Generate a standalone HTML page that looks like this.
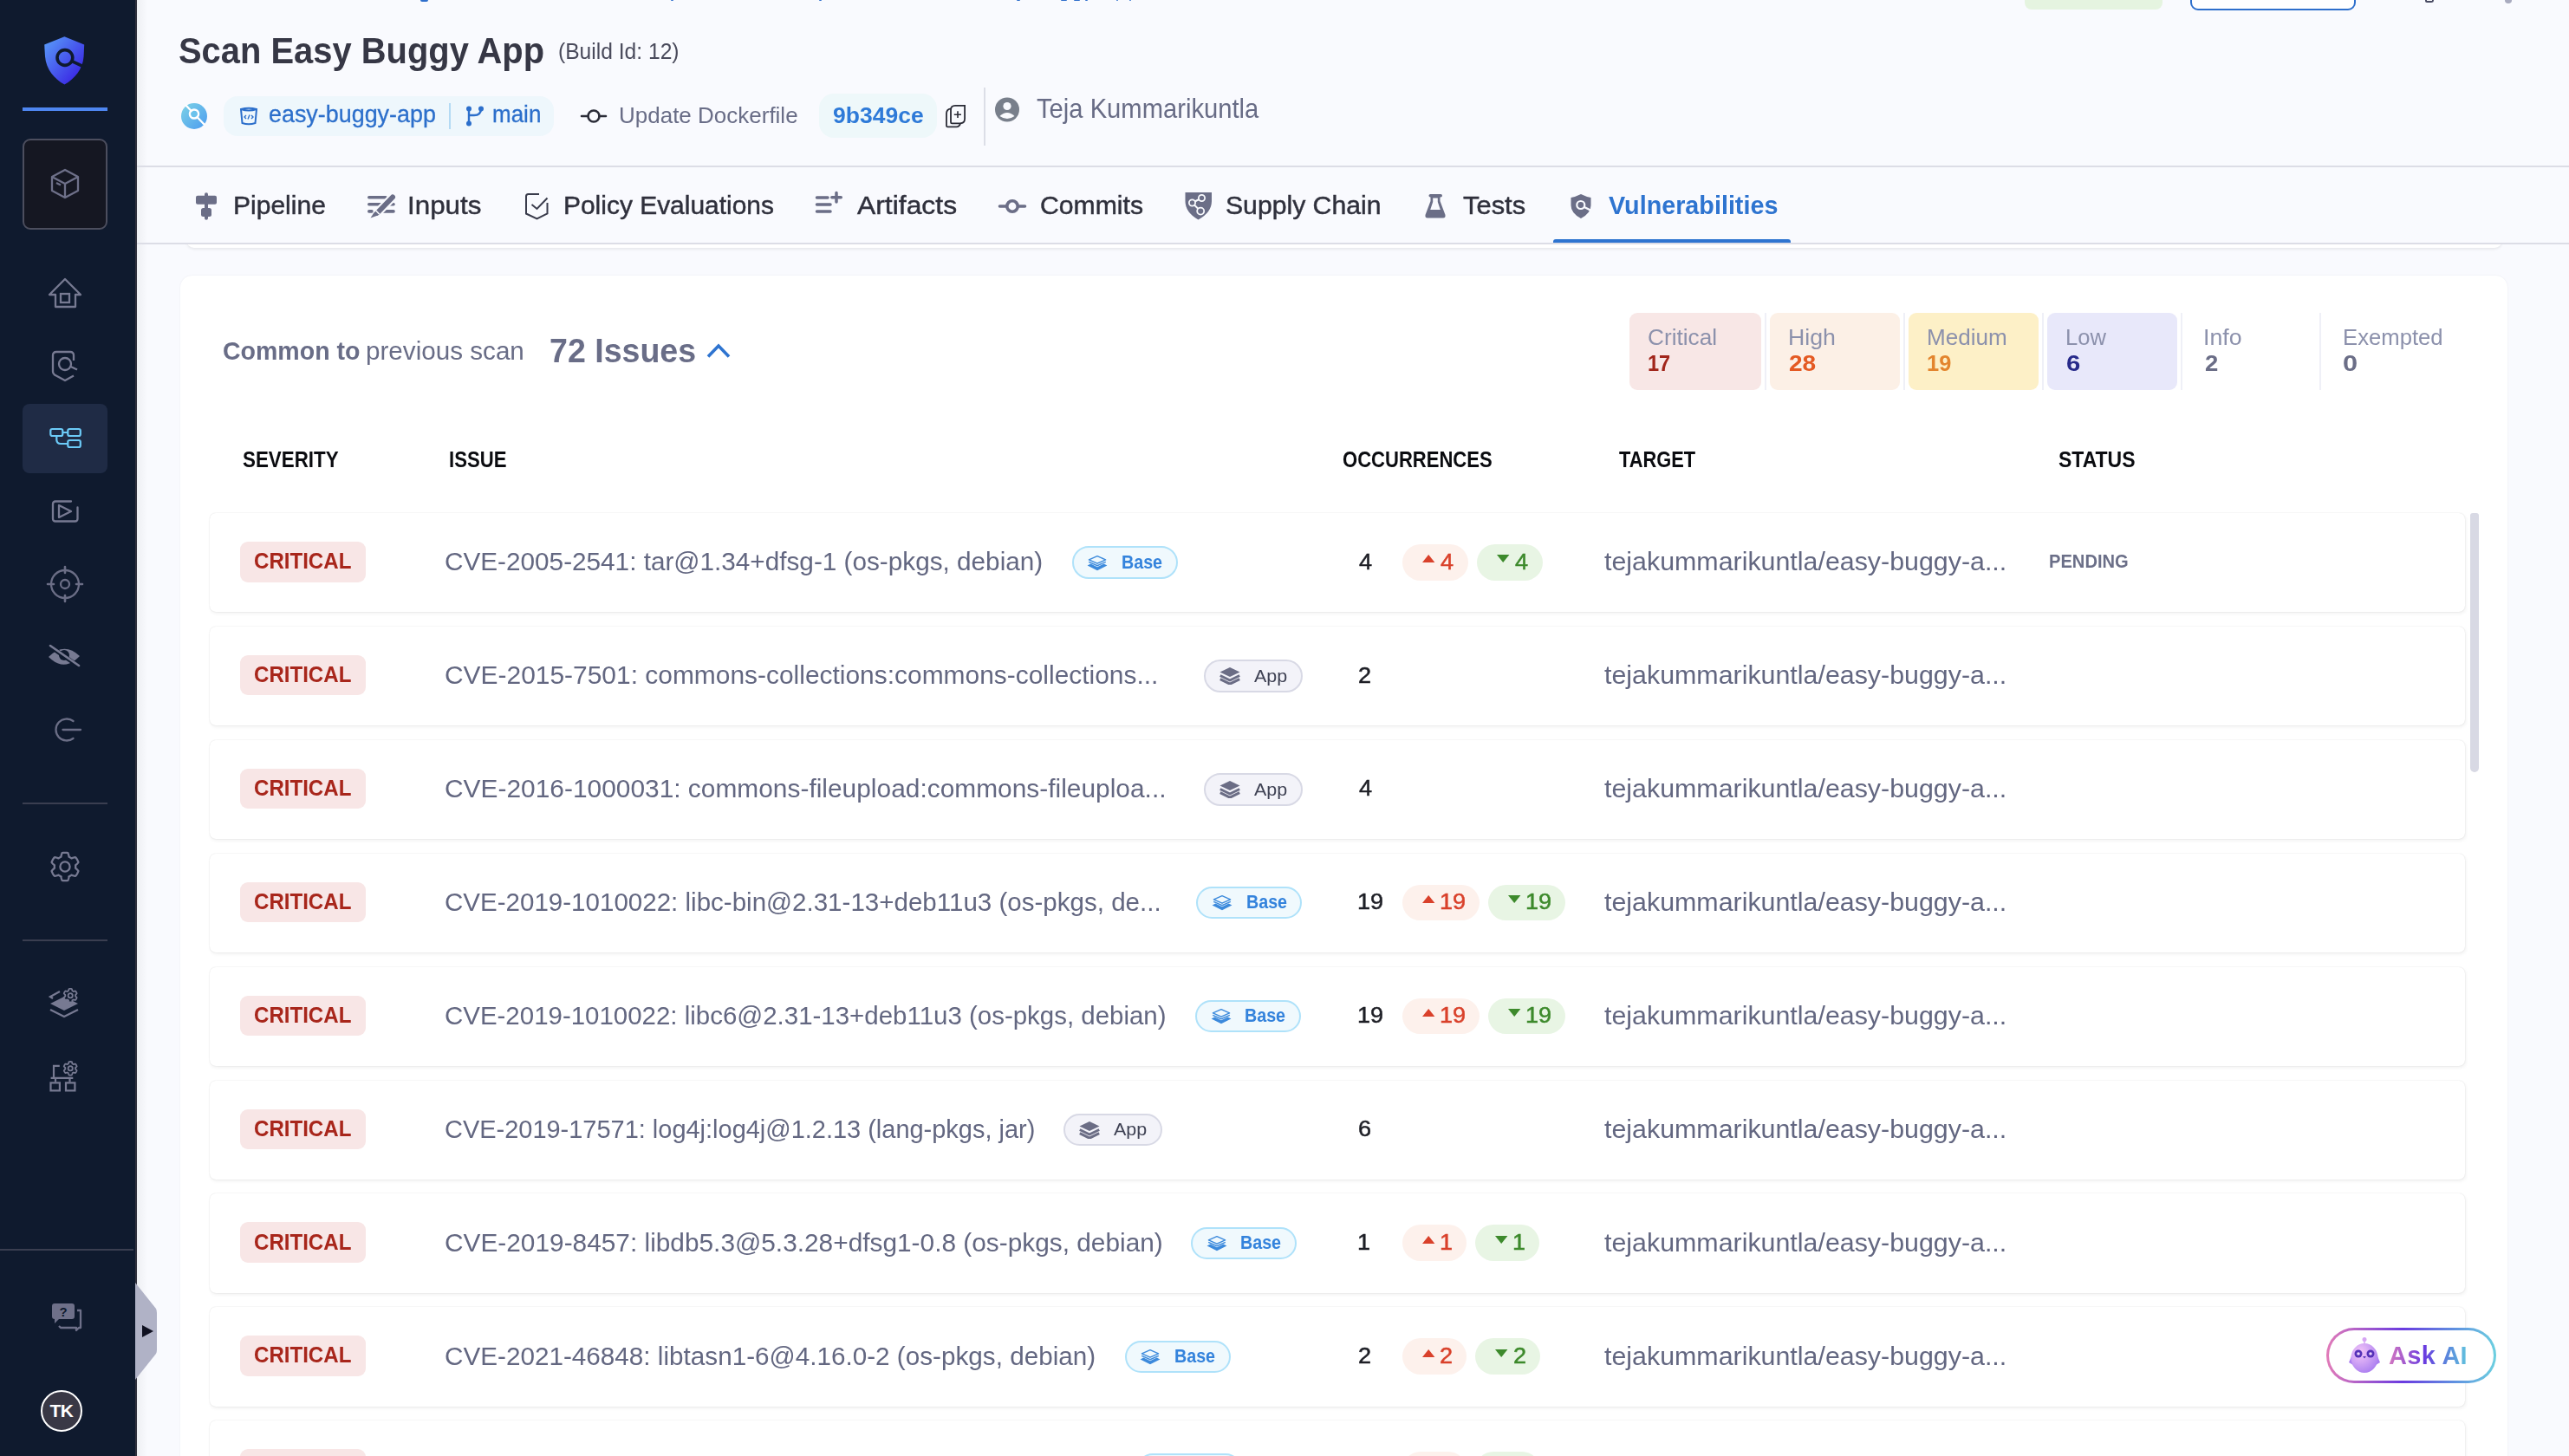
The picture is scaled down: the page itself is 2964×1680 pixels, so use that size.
<!DOCTYPE html>
<html><head><meta charset="utf-8"><title>Vulnerabilities</title>
<style>
*{margin:0;padding:0;box-sizing:border-box}
html,body{width:2964px;height:1680px;overflow:hidden;background:#F9FAFE;font-family:"Liberation Sans", sans-serif}
.t{position:absolute;line-height:1;white-space:nowrap;transform-origin:0 0}
.row{position:absolute;left:242.5px;width:2602px;height:114px;background:#fff;border-radius:10px;
box-shadow:0 0 0 1px rgba(230,231,238,0.55),0 3px 5px rgba(40,41,61,0.07)}
.crit{position:absolute;left:34.5px;top:33px;width:145px;height:46.5px;background:#F8E6E6;border-radius:9px;
color:#A8261B;font-weight:700;font-size:24px;line-height:46.5px;text-align:center;letter-spacing:0}
.issue{position:absolute;left:272px;top:0;height:114px;width:988px;display:flex;align-items:center}
.itxt{font-size:29px;color:#5E6480;white-space:nowrap;overflow:hidden;text-overflow:ellipsis;min-width:0;flex:0 1 auto;padding-top:3px;letter-spacing:0.1px}
.pill{flex:none;display:inline-flex;align-items:center;height:37.5px;border-radius:19px;border:2px solid;margin-left:34px;font-size:20px}
.pill.base{background:#F0F9FD;border-color:#B0E3FA;color:#2F7DDB;font-weight:700;padding:0 17px 0 16px;letter-spacing:0.3px}
.pill.base svg{margin-right:15px}
.pill.app{background:#F3F3F9;border-color:#D8D9E5;color:#3F4254;padding:0 16px 0 16px;font-size:21px}
.pill.app svg{margin-right:14px}
.occ{position:absolute;left:1325px;top:0;line-height:114px;font-size:26px;color:#1E1F26;padding-top:3px}
.dwrap{position:absolute;left:1375.5px;top:36px;display:flex;gap:10px}
.dpill{height:42px;border-radius:21px;display:flex;align-items:center;font-size:26px;padding:3px 17px 0 23px}
.dpill svg{margin-right:7px;margin-top:-5px}
.dpill.up{background:#FDF1EC;color:#D9412B}
.dpill.down{background:#E8F5E4;color:#3D8A2C}
.tgt{position:absolute;left:1608px;top:0;line-height:114px;font-size:29px;color:#5E6480;padding-top:4px;letter-spacing:0.25px}
.status{position:absolute;left:2123px;top:0;line-height:114px;font-size:20px;font-weight:700;color:#6B6F88;padding-top:0px}
</style></head>
<body>
<div style="position:absolute;left:0px;top:0px;width:156px;height:1680px;background:#0F1A2E"></div>
<div style="position:absolute;left:156px;top:0px;width:2px;height:1680px;background:#30313D"></div>
<div style="position:absolute;left:158px;top:0px;width:12px;height:1680px;background:linear-gradient(90deg,#EEEFF3,#F9FAFE)"></div>
<svg style="position:absolute;left:48px;top:40px" width="52" height="60" viewBox="0 0 52 60" fill="none">
<defs><linearGradient id="lg" x1="0" y1="0" x2="1" y2="1">
<stop offset="0" stop-color="#5AA0FA"/><stop offset="1" stop-color="#3412E0"/></linearGradient></defs>
<path d="M26.4 2.2 L49.2 11.6 L48.6 25 C47.5 40 38 51 26.4 57.6 C14.5 51 5.2 40 4 25 L3.2 11.6 Z" fill="url(#lg)"/>
<circle cx="26.9" cy="26.5" r="8.9" stroke="#0F1A2E" stroke-width="3.6"/>
<path d="M34.5 30.3 L49.5 37.3" stroke="#0F1A2E" stroke-width="3.6"/>
</svg>
<div style="position:absolute;left:26px;top:124px;width:98px;height:4px;background:#4E86F0"></div>
<div style="position:absolute;left:26px;top:160px;width:98px;height:105px;background:#151722;border:2px solid #4C4E5E;border-radius:9px;box-sizing:border-box"></div>
<svg style="position:absolute;left:58px;top:194px" width="34" height="36" viewBox="0 0 34 36" fill="none">
<path d="M17 2 L32 10 L32 26 L17 34 L2 26 L2 10 Z M2 10 L17 18 L32 10 M17 18 L17 34 M7 17 L12 19.5" stroke="#6E7089" stroke-width="2.3" stroke-linejoin="round"/>
</svg>
<svg style="position:absolute;left:55px;top:319px" width="40" height="38" viewBox="0 0 40 38" fill="none">
<path d="M2 21 L20 3 L38 21 L32 21 L32 35 L9 35 L9 21 Z" stroke="#777A92" stroke-width="2.3" stroke-linejoin="round"/>
<rect x="15" y="20" width="10" height="10" stroke="#777A92" stroke-width="2.3"/>
</svg>
<svg style="position:absolute;left:58px;top:403px" width="36" height="38" viewBox="0 0 36 38" fill="none">
<path d="M27 13 L27 7 Q27 3 23 3 L7 3 Q3 3 3 7 L3 26 Q3 28 5 29.5 L17 36 L27 30.5" stroke="#777A92" stroke-width="2.3" stroke-linejoin="round"/>
<circle cx="17" cy="17" r="7" stroke="#777A92" stroke-width="2.3"/>
<path d="M23.5 20 L31 23.5" stroke="#777A92" stroke-width="2.3"/>
</svg>
<div style="position:absolute;left:26px;top:466px;width:98px;height:80px;background:#1F2B45;border-radius:8px"></div>
<svg style="position:absolute;left:55px;top:492px" width="42" height="26" viewBox="0 0 42 26" fill="none">
<rect x="3.3" y="3" width="14" height="8" rx="2" stroke="#6CCBF8" stroke-width="2.2"/>
<rect x="23.3" y="3" width="14.5" height="8" rx="2" stroke="#6CCBF8" stroke-width="2.2"/>
<rect x="23.3" y="16" width="14.5" height="8" rx="2" stroke="#6CCBF8" stroke-width="2.2"/>
<path d="M17.3 7 L23.3 7 M10.3 11 L10.3 15 Q10.3 20 15 20 L23.3 20" stroke="#6CCBF8" stroke-width="2.2"/>
</svg>
<svg style="position:absolute;left:58px;top:575px" width="34" height="30" viewBox="0 0 34 30" fill="none">
<path d="M24 3.5 L6 3.5 Q3 3.5 3 6.5 L3 23.5 Q3 26.5 6 26.5 L28.5 26.5 Q31.5 26.5 31.5 23.5 L31.5 10.5" stroke="#777A92" stroke-width="2.3" stroke-linecap="round"/>
<path d="M10 8 L10 22 L24 15 Z" stroke="#777A92" stroke-width="2.3" stroke-linejoin="round"/>
</svg>
<svg style="position:absolute;left:53px;top:652px" width="44" height="44" viewBox="0 0 44 44" fill="none">
<circle cx="22" cy="22" r="16" stroke="#6B6E86" stroke-width="2.3"/>
<circle cx="22" cy="22" r="5" stroke="#6B6E86" stroke-width="2.3"/>
<path d="M22 2 L22 9 M22 35 L22 42 M2 22 L9 22 M35 22 L42 22" stroke="#6B6E86" stroke-width="2.6" stroke-linecap="round"/>
</svg>
<svg style="position:absolute;left:54px;top:742px" width="42" height="32" viewBox="0 0 42 32" fill="none">
<path d="M2 16 Q20 -2 38 15 Q20 34 2 16 Z" fill="#777A92"/>
<circle cx="20" cy="14" r="6" fill="#0F1A2E"/>
<path d="M4 4 L37 27" stroke="#0F1A2E" stroke-width="5"/>
<path d="M4 3 L37 26" stroke="#777A92" stroke-width="2.6" stroke-linecap="round"/>
</svg>
<svg style="position:absolute;left:60px;top:827px" width="36" height="30" viewBox="0 0 36 30" fill="none">
<path d="M24.5 5 A12.5 12.5 0 1 0 24.5 25" stroke="#6B6E86" stroke-width="2.3" stroke-linecap="round"/>
<path d="M12.5 15 L33 15" stroke="#6B6E86" stroke-width="2.3" stroke-linecap="round"/>
</svg>
<div style="position:absolute;left:26px;top:926px;width:98px;height:2px;background:#3A3E50"></div>
<svg style="position:absolute;left:55px;top:980px" width="40" height="40" viewBox="0 0 40 40" fill="none">
<path d="M32.20 20.00 L32.20 20.21 L32.19 20.43 L32.18 20.64 L32.17 20.85 L32.15 21.06 L32.13 21.28 L32.11 21.49 L32.08 21.70 L32.44 21.97 L32.80 22.26 L33.15 22.56 L33.50 22.87 L33.84 23.19 L34.17 23.53 L34.49 23.88 L34.80 24.24 L35.11 24.62 L35.41 25.01 L35.32 25.27 L35.22 25.54 L35.12 25.81 L35.02 26.07 L34.91 26.33 L34.80 26.59 L34.68 26.85 L34.56 27.10 L34.43 27.35 L34.30 27.61 L34.17 27.85 L34.03 28.10 L33.89 28.34 L33.74 28.58 L33.59 28.82 L33.43 29.06 L33.27 29.29 L33.11 29.52 L32.94 29.75 L32.77 29.97 L32.59 30.19 L32.41 30.41 L32.23 30.63 L32.04 30.84 L31.56 30.78 L31.08 30.70 L30.61 30.61 L30.14 30.50 L29.68 30.39 L29.23 30.26 L28.79 30.11 L28.36 29.96 L27.93 29.79 L27.51 29.61 L27.34 29.74 L27.17 29.87 L27.00 29.99 L26.82 30.11 L26.64 30.23 L26.47 30.35 L26.28 30.46 L26.10 30.57 L25.91 30.67 L25.73 30.77 L25.54 30.87 L25.35 30.97 L25.16 31.06 L24.96 31.15 L24.77 31.23 L24.57 31.31 L24.52 31.76 L24.45 32.22 L24.36 32.67 L24.26 33.12 L24.15 33.58 L24.02 34.03 L23.88 34.49 L23.73 34.94 L23.55 35.40 L23.37 35.85 L23.09 35.90 L22.81 35.95 L22.53 36.00 L22.25 36.04 L21.97 36.08 L21.69 36.11 L21.41 36.14 L21.13 36.16 L20.85 36.18 L20.57 36.19 L20.28 36.20 L20.00 36.20 L19.72 36.20 L19.43 36.19 L19.15 36.18 L18.87 36.16 L18.59 36.14 L18.31 36.11 L18.03 36.08 L17.75 36.04 L17.47 36.00 L17.19 35.95 L16.91 35.90 L16.63 35.85 L16.45 35.40 L16.27 34.94 L16.12 34.49 L15.98 34.03 L15.85 33.58 L15.74 33.12 L15.64 32.67 L15.55 32.22 L15.48 31.76 L15.43 31.31 L15.23 31.23 L15.04 31.15 L14.84 31.06 L14.65 30.97 L14.46 30.87 L14.27 30.77 L14.09 30.67 L13.90 30.57 L13.72 30.46 L13.53 30.35 L13.36 30.23 L13.18 30.11 L13.00 29.99 L12.83 29.87 L12.66 29.74 L12.49 29.61 L12.07 29.79 L11.64 29.96 L11.21 30.11 L10.77 30.26 L10.32 30.39 L9.86 30.50 L9.39 30.61 L8.92 30.70 L8.44 30.78 L7.96 30.84 L7.77 30.63 L7.59 30.41 L7.41 30.19 L7.23 29.97 L7.06 29.75 L6.89 29.52 L6.73 29.29 L6.57 29.06 L6.41 28.82 L6.26 28.58 L6.11 28.34 L5.97 28.10 L5.83 27.85 L5.70 27.61 L5.57 27.35 L5.44 27.10 L5.32 26.85 L5.20 26.59 L5.09 26.33 L4.98 26.07 L4.88 25.81 L4.78 25.54 L4.68 25.27 L4.59 25.01 L4.89 24.62 L5.20 24.24 L5.51 23.88 L5.83 23.53 L6.16 23.19 L6.50 22.87 L6.85 22.56 L7.20 22.26 L7.56 21.97 L7.92 21.70 L7.89 21.49 L7.87 21.28 L7.85 21.06 L7.83 20.85 L7.82 20.64 L7.81 20.43 L7.80 20.21 L7.80 20.00 L7.80 19.79 L7.81 19.57 L7.82 19.36 L7.83 19.15 L7.85 18.94 L7.87 18.72 L7.89 18.51 L7.92 18.30 L7.56 18.03 L7.20 17.74 L6.85 17.44 L6.50 17.13 L6.16 16.81 L5.83 16.47 L5.51 16.12 L5.20 15.76 L4.89 15.38 L4.59 14.99 L4.68 14.73 L4.78 14.46 L4.88 14.19 L4.98 13.93 L5.09 13.67 L5.20 13.41 L5.32 13.15 L5.44 12.90 L5.57 12.65 L5.70 12.39 L5.83 12.15 L5.97 11.90 L6.11 11.66 L6.26 11.42 L6.41 11.18 L6.57 10.94 L6.73 10.71 L6.89 10.48 L7.06 10.25 L7.23 10.03 L7.41 9.81 L7.59 9.59 L7.77 9.37 L7.96 9.16 L8.44 9.22 L8.92 9.30 L9.39 9.39 L9.86 9.50 L10.32 9.61 L10.77 9.74 L11.21 9.89 L11.64 10.04 L12.07 10.21 L12.49 10.39 L12.66 10.26 L12.83 10.13 L13.00 10.01 L13.18 9.89 L13.36 9.77 L13.53 9.65 L13.72 9.54 L13.90 9.43 L14.09 9.33 L14.27 9.23 L14.46 9.13 L14.65 9.03 L14.84 8.94 L15.04 8.85 L15.23 8.77 L15.43 8.69 L15.48 8.24 L15.55 7.78 L15.64 7.33 L15.74 6.88 L15.85 6.42 L15.98 5.97 L16.12 5.51 L16.27 5.06 L16.45 4.60 L16.63 4.15 L16.91 4.10 L17.19 4.05 L17.47 4.00 L17.75 3.96 L18.03 3.92 L18.31 3.89 L18.59 3.86 L18.87 3.84 L19.15 3.82 L19.43 3.81 L19.72 3.80 L20.00 3.80 L20.28 3.80 L20.57 3.81 L20.85 3.82 L21.13 3.84 L21.41 3.86 L21.69 3.89 L21.97 3.92 L22.25 3.96 L22.53 4.00 L22.81 4.05 L23.09 4.10 L23.37 4.15 L23.55 4.60 L23.73 5.06 L23.88 5.51 L24.02 5.97 L24.15 6.42 L24.26 6.88 L24.36 7.33 L24.45 7.78 L24.52 8.24 L24.57 8.69 L24.77 8.77 L24.96 8.85 L25.16 8.94 L25.35 9.03 L25.54 9.13 L25.73 9.23 L25.91 9.33 L26.10 9.43 L26.28 9.54 L26.47 9.65 L26.64 9.77 L26.82 9.89 L27.00 10.01 L27.17 10.13 L27.34 10.26 L27.51 10.39 L27.93 10.21 L28.36 10.04 L28.79 9.89 L29.23 9.74 L29.68 9.61 L30.14 9.50 L30.61 9.39 L31.08 9.30 L31.56 9.22 L32.04 9.16 L32.23 9.37 L32.41 9.59 L32.59 9.81 L32.77 10.03 L32.94 10.25 L33.11 10.48 L33.27 10.71 L33.43 10.94 L33.59 11.18 L33.74 11.42 L33.89 11.66 L34.03 11.90 L34.17 12.15 L34.30 12.39 L34.43 12.65 L34.56 12.90 L34.68 13.15 L34.80 13.41 L34.91 13.67 L35.02 13.93 L35.12 14.19 L35.22 14.46 L35.32 14.73 L35.41 14.99 L35.11 15.38 L34.80 15.76 L34.49 16.12 L34.17 16.47 L33.84 16.81 L33.50 17.13 L33.15 17.44 L32.80 17.74 L32.44 18.03 L32.08 18.30 L32.11 18.51 L32.13 18.72 L32.15 18.94 L32.17 19.15 L32.18 19.36 L32.19 19.57 L32.20 19.79 Z" stroke="#777A92" stroke-width="2.3" stroke-linejoin="round"/>
<circle cx="20" cy="20" r="5.6" stroke="#777A92" stroke-width="2.3"/>
</svg>
<div style="position:absolute;left:26px;top:1084px;width:98px;height:2px;background:#3A3E50"></div>
<svg style="position:absolute;left:55px;top:1138px" width="40" height="40" viewBox="0 0 40 40" fill="none">
<path d="M18 4 L4 11 L19 19 L35 11" stroke="#777A92" stroke-width="0"/>
<path d="M3 20 L19 12 L35 20 L19 28 Z" fill="#777A92"/>
<path d="M3 27 L19 35 L35 27" stroke="#777A92" stroke-width="2.3" stroke-linejoin="round"/>
<path d="M3 20 L3 20" stroke="#777A92"/>
<path d="M14 6 L3 12 L6 14" stroke="#777A92" stroke-width="2.3"/>
<path d="M32.10 10.70 L32.10 10.80 L32.10 10.91 L32.09 11.01 L32.09 11.11 L32.08 11.21 L32.07 11.32 L32.06 11.42 L32.04 11.52 L32.22 11.65 L32.38 11.79 L32.55 11.93 L32.71 12.08 L32.87 12.24 L33.03 12.40 L33.18 12.57 L33.33 12.75 L33.48 12.92 L33.62 13.11 L33.58 13.24 L33.53 13.37 L33.48 13.50 L33.43 13.62 L33.38 13.75 L33.33 13.87 L33.27 14.00 L33.21 14.12 L33.15 14.24 L33.09 14.36 L33.02 14.48 L32.95 14.60 L32.89 14.72 L32.81 14.83 L32.74 14.95 L32.67 15.06 L32.59 15.17 L32.51 15.28 L32.43 15.39 L32.35 15.50 L32.26 15.61 L32.18 15.71 L32.09 15.82 L32.00 15.92 L31.77 15.89 L31.54 15.85 L31.31 15.81 L31.09 15.76 L30.87 15.71 L30.66 15.65 L30.44 15.58 L30.24 15.51 L30.03 15.43 L29.83 15.35 L29.75 15.41 L29.67 15.47 L29.58 15.53 L29.50 15.59 L29.41 15.65 L29.33 15.70 L29.24 15.76 L29.15 15.81 L29.06 15.86 L28.97 15.91 L28.88 15.96 L28.79 16.00 L28.69 16.05 L28.60 16.09 L28.51 16.13 L28.41 16.17 L28.38 16.39 L28.35 16.60 L28.31 16.82 L28.26 17.03 L28.20 17.25 L28.14 17.47 L28.07 17.68 L28.00 17.90 L27.91 18.11 L27.82 18.33 L27.69 18.36 L27.55 18.38 L27.42 18.40 L27.29 18.42 L27.15 18.44 L27.02 18.46 L26.88 18.47 L26.74 18.48 L26.61 18.49 L26.47 18.50 L26.34 18.50 L26.20 18.50 L26.06 18.50 L25.93 18.50 L25.79 18.49 L25.66 18.48 L25.52 18.47 L25.38 18.46 L25.25 18.44 L25.11 18.42 L24.98 18.40 L24.85 18.38 L24.71 18.36 L24.58 18.33 L24.49 18.11 L24.40 17.90 L24.33 17.68 L24.26 17.47 L24.20 17.25 L24.14 17.03 L24.09 16.82 L24.05 16.60 L24.02 16.39 L23.99 16.17 L23.89 16.13 L23.80 16.09 L23.71 16.05 L23.61 16.00 L23.52 15.96 L23.43 15.91 L23.34 15.86 L23.25 15.81 L23.16 15.76 L23.07 15.70 L22.99 15.65 L22.90 15.59 L22.82 15.53 L22.73 15.47 L22.65 15.41 L22.57 15.35 L22.37 15.43 L22.16 15.51 L21.96 15.58 L21.74 15.65 L21.53 15.71 L21.31 15.76 L21.09 15.81 L20.86 15.85 L20.63 15.89 L20.40 15.92 L20.31 15.82 L20.22 15.71 L20.14 15.61 L20.05 15.50 L19.97 15.39 L19.89 15.28 L19.81 15.17 L19.73 15.06 L19.66 14.95 L19.59 14.83 L19.51 14.72 L19.45 14.60 L19.38 14.48 L19.31 14.36 L19.25 14.24 L19.19 14.12 L19.13 14.00 L19.07 13.87 L19.02 13.75 L18.97 13.62 L18.92 13.50 L18.87 13.37 L18.82 13.24 L18.78 13.11 L18.92 12.92 L19.07 12.75 L19.22 12.57 L19.37 12.40 L19.53 12.24 L19.69 12.08 L19.85 11.93 L20.02 11.79 L20.18 11.65 L20.36 11.52 L20.34 11.42 L20.33 11.32 L20.32 11.21 L20.31 11.11 L20.31 11.01 L20.30 10.91 L20.30 10.80 L20.30 10.70 L20.30 10.60 L20.30 10.49 L20.31 10.39 L20.31 10.29 L20.32 10.19 L20.33 10.08 L20.34 9.98 L20.36 9.88 L20.18 9.75 L20.02 9.61 L19.85 9.47 L19.69 9.32 L19.53 9.16 L19.37 9.00 L19.22 8.83 L19.07 8.65 L18.92 8.48 L18.78 8.29 L18.82 8.16 L18.87 8.03 L18.92 7.90 L18.97 7.78 L19.02 7.65 L19.07 7.53 L19.13 7.40 L19.19 7.28 L19.25 7.16 L19.31 7.04 L19.38 6.92 L19.45 6.80 L19.51 6.68 L19.59 6.57 L19.66 6.45 L19.73 6.34 L19.81 6.23 L19.89 6.12 L19.97 6.01 L20.05 5.90 L20.14 5.79 L20.22 5.69 L20.31 5.58 L20.40 5.48 L20.63 5.51 L20.86 5.55 L21.09 5.59 L21.31 5.64 L21.53 5.69 L21.74 5.75 L21.96 5.82 L22.16 5.89 L22.37 5.97 L22.57 6.05 L22.65 5.99 L22.73 5.93 L22.82 5.87 L22.90 5.81 L22.99 5.75 L23.07 5.70 L23.16 5.64 L23.25 5.59 L23.34 5.54 L23.43 5.49 L23.52 5.44 L23.61 5.40 L23.71 5.35 L23.80 5.31 L23.89 5.27 L23.99 5.23 L24.02 5.01 L24.05 4.80 L24.09 4.58 L24.14 4.37 L24.20 4.15 L24.26 3.93 L24.33 3.72 L24.40 3.50 L24.49 3.29 L24.58 3.07 L24.71 3.04 L24.85 3.02 L24.98 3.00 L25.11 2.98 L25.25 2.96 L25.38 2.94 L25.52 2.93 L25.66 2.92 L25.79 2.91 L25.93 2.90 L26.06 2.90 L26.20 2.90 L26.34 2.90 L26.47 2.90 L26.61 2.91 L26.74 2.92 L26.88 2.93 L27.02 2.94 L27.15 2.96 L27.29 2.98 L27.42 3.00 L27.55 3.02 L27.69 3.04 L27.82 3.07 L27.91 3.29 L28.00 3.50 L28.07 3.72 L28.14 3.93 L28.20 4.15 L28.26 4.37 L28.31 4.58 L28.35 4.80 L28.38 5.01 L28.41 5.23 L28.51 5.27 L28.60 5.31 L28.69 5.35 L28.79 5.40 L28.88 5.44 L28.97 5.49 L29.06 5.54 L29.15 5.59 L29.24 5.64 L29.33 5.70 L29.41 5.75 L29.50 5.81 L29.58 5.87 L29.67 5.93 L29.75 5.99 L29.83 6.05 L30.03 5.97 L30.24 5.89 L30.44 5.82 L30.66 5.75 L30.87 5.69 L31.09 5.64 L31.31 5.59 L31.54 5.55 L31.77 5.51 L32.00 5.48 L32.09 5.58 L32.18 5.69 L32.26 5.79 L32.35 5.90 L32.43 6.01 L32.51 6.12 L32.59 6.23 L32.67 6.34 L32.74 6.45 L32.81 6.57 L32.89 6.68 L32.95 6.80 L33.02 6.92 L33.09 7.04 L33.15 7.16 L33.21 7.28 L33.27 7.40 L33.33 7.53 L33.38 7.65 L33.43 7.78 L33.48 7.90 L33.53 8.03 L33.58 8.16 L33.62 8.29 L33.48 8.48 L33.33 8.65 L33.18 8.83 L33.03 9.00 L32.87 9.16 L32.71 9.32 L32.55 9.47 L32.38 9.61 L32.22 9.75 L32.04 9.88 L32.06 9.98 L32.07 10.08 L32.08 10.19 L32.09 10.29 L32.09 10.39 L32.10 10.49 L32.10 10.60 Z" fill="#0F1A2E" stroke="#777A92" stroke-width="1.8" stroke-linejoin="round"/>
<circle cx="26.2" cy="10.7" r="2.6" stroke="#777A92" stroke-width="1.8"/>
</svg>
<svg style="position:absolute;left:55px;top:1222px" width="40" height="40" viewBox="0 0 40 40" fill="none">
<path d="M13.8 7.8 L7 7.8 L7 21.8 M3.6 21.8 L29.3 21.8 M9 21.8 L9 26.4 M25.5 21.8 L25.5 26.4" stroke="#777A92" stroke-width="2.2"/>
<rect x="3.5" y="27.4" width="10.4" height="9" stroke="#777A92" stroke-width="2.2"/>
<rect x="21" y="27.4" width="10.4" height="9" stroke="#777A92" stroke-width="2.2"/>
<path d="M32.10 10.80 L32.10 10.90 L32.10 11.01 L32.09 11.11 L32.09 11.21 L32.08 11.31 L32.07 11.42 L32.06 11.52 L32.04 11.62 L32.22 11.75 L32.38 11.89 L32.55 12.03 L32.71 12.18 L32.87 12.34 L33.03 12.50 L33.18 12.67 L33.33 12.85 L33.48 13.02 L33.62 13.21 L33.58 13.34 L33.53 13.47 L33.48 13.60 L33.43 13.72 L33.38 13.85 L33.33 13.97 L33.27 14.10 L33.21 14.22 L33.15 14.34 L33.09 14.46 L33.02 14.58 L32.95 14.70 L32.89 14.82 L32.81 14.93 L32.74 15.05 L32.67 15.16 L32.59 15.27 L32.51 15.38 L32.43 15.49 L32.35 15.60 L32.26 15.71 L32.18 15.81 L32.09 15.92 L32.00 16.02 L31.77 15.99 L31.54 15.95 L31.31 15.91 L31.09 15.86 L30.87 15.81 L30.66 15.75 L30.44 15.68 L30.24 15.61 L30.03 15.53 L29.83 15.45 L29.75 15.51 L29.67 15.57 L29.58 15.63 L29.50 15.69 L29.41 15.75 L29.33 15.80 L29.24 15.86 L29.15 15.91 L29.06 15.96 L28.97 16.01 L28.88 16.06 L28.79 16.10 L28.69 16.15 L28.60 16.19 L28.51 16.23 L28.41 16.27 L28.38 16.49 L28.35 16.70 L28.31 16.92 L28.26 17.13 L28.20 17.35 L28.14 17.57 L28.07 17.78 L28.00 18.00 L27.91 18.21 L27.82 18.43 L27.69 18.46 L27.55 18.48 L27.42 18.50 L27.29 18.52 L27.15 18.54 L27.02 18.56 L26.88 18.57 L26.74 18.58 L26.61 18.59 L26.47 18.60 L26.34 18.60 L26.20 18.60 L26.06 18.60 L25.93 18.60 L25.79 18.59 L25.66 18.58 L25.52 18.57 L25.38 18.56 L25.25 18.54 L25.11 18.52 L24.98 18.50 L24.85 18.48 L24.71 18.46 L24.58 18.43 L24.49 18.21 L24.40 18.00 L24.33 17.78 L24.26 17.57 L24.20 17.35 L24.14 17.13 L24.09 16.92 L24.05 16.70 L24.02 16.49 L23.99 16.27 L23.89 16.23 L23.80 16.19 L23.71 16.15 L23.61 16.10 L23.52 16.06 L23.43 16.01 L23.34 15.96 L23.25 15.91 L23.16 15.86 L23.07 15.80 L22.99 15.75 L22.90 15.69 L22.82 15.63 L22.73 15.57 L22.65 15.51 L22.57 15.45 L22.37 15.53 L22.16 15.61 L21.96 15.68 L21.74 15.75 L21.53 15.81 L21.31 15.86 L21.09 15.91 L20.86 15.95 L20.63 15.99 L20.40 16.02 L20.31 15.92 L20.22 15.81 L20.14 15.71 L20.05 15.60 L19.97 15.49 L19.89 15.38 L19.81 15.27 L19.73 15.16 L19.66 15.05 L19.59 14.93 L19.51 14.82 L19.45 14.70 L19.38 14.58 L19.31 14.46 L19.25 14.34 L19.19 14.22 L19.13 14.10 L19.07 13.97 L19.02 13.85 L18.97 13.72 L18.92 13.60 L18.87 13.47 L18.82 13.34 L18.78 13.21 L18.92 13.02 L19.07 12.85 L19.22 12.67 L19.37 12.50 L19.53 12.34 L19.69 12.18 L19.85 12.03 L20.02 11.89 L20.18 11.75 L20.36 11.62 L20.34 11.52 L20.33 11.42 L20.32 11.31 L20.31 11.21 L20.31 11.11 L20.30 11.01 L20.30 10.90 L20.30 10.80 L20.30 10.70 L20.30 10.59 L20.31 10.49 L20.31 10.39 L20.32 10.29 L20.33 10.18 L20.34 10.08 L20.36 9.98 L20.18 9.85 L20.02 9.71 L19.85 9.57 L19.69 9.42 L19.53 9.26 L19.37 9.10 L19.22 8.93 L19.07 8.75 L18.92 8.58 L18.78 8.39 L18.82 8.26 L18.87 8.13 L18.92 8.00 L18.97 7.88 L19.02 7.75 L19.07 7.63 L19.13 7.50 L19.19 7.38 L19.25 7.26 L19.31 7.14 L19.38 7.02 L19.45 6.90 L19.51 6.78 L19.59 6.67 L19.66 6.55 L19.73 6.44 L19.81 6.33 L19.89 6.22 L19.97 6.11 L20.05 6.00 L20.14 5.89 L20.22 5.79 L20.31 5.68 L20.40 5.58 L20.63 5.61 L20.86 5.65 L21.09 5.69 L21.31 5.74 L21.53 5.79 L21.74 5.85 L21.96 5.92 L22.16 5.99 L22.37 6.07 L22.57 6.15 L22.65 6.09 L22.73 6.03 L22.82 5.97 L22.90 5.91 L22.99 5.85 L23.07 5.80 L23.16 5.74 L23.25 5.69 L23.34 5.64 L23.43 5.59 L23.52 5.54 L23.61 5.50 L23.71 5.45 L23.80 5.41 L23.89 5.37 L23.99 5.33 L24.02 5.11 L24.05 4.90 L24.09 4.68 L24.14 4.47 L24.20 4.25 L24.26 4.03 L24.33 3.82 L24.40 3.60 L24.49 3.39 L24.58 3.17 L24.71 3.14 L24.85 3.12 L24.98 3.10 L25.11 3.08 L25.25 3.06 L25.38 3.04 L25.52 3.03 L25.66 3.02 L25.79 3.01 L25.93 3.00 L26.06 3.00 L26.20 3.00 L26.34 3.00 L26.47 3.00 L26.61 3.01 L26.74 3.02 L26.88 3.03 L27.02 3.04 L27.15 3.06 L27.29 3.08 L27.42 3.10 L27.55 3.12 L27.69 3.14 L27.82 3.17 L27.91 3.39 L28.00 3.60 L28.07 3.82 L28.14 4.03 L28.20 4.25 L28.26 4.47 L28.31 4.68 L28.35 4.90 L28.38 5.11 L28.41 5.33 L28.51 5.37 L28.60 5.41 L28.69 5.45 L28.79 5.50 L28.88 5.54 L28.97 5.59 L29.06 5.64 L29.15 5.69 L29.24 5.74 L29.33 5.80 L29.41 5.85 L29.50 5.91 L29.58 5.97 L29.67 6.03 L29.75 6.09 L29.83 6.15 L30.03 6.07 L30.24 5.99 L30.44 5.92 L30.66 5.85 L30.87 5.79 L31.09 5.74 L31.31 5.69 L31.54 5.65 L31.77 5.61 L32.00 5.58 L32.09 5.68 L32.18 5.79 L32.26 5.89 L32.35 6.00 L32.43 6.11 L32.51 6.22 L32.59 6.33 L32.67 6.44 L32.74 6.55 L32.81 6.67 L32.89 6.78 L32.95 6.90 L33.02 7.02 L33.09 7.14 L33.15 7.26 L33.21 7.38 L33.27 7.50 L33.33 7.63 L33.38 7.75 L33.43 7.88 L33.48 8.00 L33.53 8.13 L33.58 8.26 L33.62 8.39 L33.48 8.58 L33.33 8.75 L33.18 8.93 L33.03 9.10 L32.87 9.26 L32.71 9.42 L32.55 9.57 L32.38 9.71 L32.22 9.85 L32.04 9.98 L32.06 10.08 L32.07 10.18 L32.08 10.29 L32.09 10.39 L32.09 10.49 L32.10 10.59 L32.10 10.70 Z" fill="#0F1A2E" stroke="#777A92" stroke-width="1.8" stroke-linejoin="round"/>
<circle cx="26.2" cy="10.8" r="2.6" stroke="#777A92" stroke-width="1.8"/>
</svg>
<div style="position:absolute;left:0px;top:1441px;width:154px;height:2px;background:#3A3E50"></div>
<svg style="position:absolute;left:58px;top:1502px" width="40" height="36" viewBox="0 0 40 36" fill="none">
<path d="M5 2 L25 2 Q28 2 28 5 L28 17 Q28 20 25 20 L10 20 L5 25 L5 20 Q2 20 2 17 L2 5 Q2 2 5 2 Z" fill="#6E7089"/>
<text x="15" y="16.5" font-family="Liberation Sans" font-weight="bold" font-size="15" fill="#0F1A2E" text-anchor="middle">?</text>
<path d="M31 10 L35 10 L35 30 L33 30 L30 33 L30 30 L12 30 L10 28" stroke="#6E7089" stroke-width="2.3" stroke-linejoin="round"/>
</svg>
<div style="position:absolute;left:47px;top:1604px;width:48px;height:48px;border:2.5px solid #fff;border-radius:50%;background:#393845;color:#fff;font:bold 21px Liberation Sans, sans-serif;display:flex;align-items:center;justify-content:center;letter-spacing:-0.5px">TK</div>
<svg style="position:absolute;left:156px;top:1480px" width="28" height="112" viewBox="0 0 28 112" fill="none">
<path d="M0 0 L24 30 Q25 32 25 35 L25 77 Q25 80 24 82 L0 112 Z" fill="#B0B2C6"/>
<path d="M8 49 L21 56 L8 63 Z" fill="#0F1020"/>
</svg>
<div style="position:absolute;left:484.6px;top:0px;width:9.699999999999989px;height:1.6px;background:#2F6FCC;border-radius:0 0 2px 2px"></div>
<div style="position:absolute;left:773.6px;top:0px;width:3.8999999999999773px;height:1.4px;background:#2F6FCC;border-radius:0 0 2px 2px"></div>
<div style="position:absolute;left:944.9px;top:0px;width:2.8999999999999773px;height:1.4px;background:#2F6FCC;border-radius:0 0 2px 2px"></div>
<div style="position:absolute;left:1173.1px;top:0px;width:3.5px;height:1.3px;background:#2F6FCC;border-radius:0 0 2px 2px"></div>
<div style="position:absolute;left:1224.3px;top:0px;width:7.0px;height:1.4px;background:#2F6FCC;border-radius:0 0 2px 2px"></div>
<div style="position:absolute;left:1239px;top:0px;width:7px;height:1.4px;background:#2F6FCC;border-radius:0 0 2px 2px"></div>
<div style="position:absolute;left:1251.6px;top:0px;width:3.400000000000091px;height:1.3px;background:#2F6FCC;border-radius:0 0 2px 2px"></div>
<div style="position:absolute;left:1288px;top:0px;width:2.2999999999999545px;height:1.3px;background:#2F6FCC;border-radius:0 0 2px 2px"></div>
<div style="position:absolute;left:1302.8px;top:0px;width:2.2000000000000455px;height:1.3px;background:#2F6FCC;border-radius:0 0 2px 2px"></div>
<div style="position:absolute;left:2336px;top:-10px;width:159px;height:21px;background:#E5F4E0;border-radius:8px"></div>
<div style="position:absolute;left:2527px;top:-10px;width:190.5px;height:21.5px;background:#fff;border:2px solid #2E6FCC;border-radius:9px;box-sizing:border-box"></div>
<div style="position:absolute;left:2890px;top:-4px;width:8px;height:7.6px;background:#A9ABBF;border-radius:50%"></div>
<div style="position:absolute;left:2798px;top:-8px;width:9.5px;height:10.6px;border:2px solid #4A4C63;border-radius:2px 2px 3px 2px;border-top:none"></div>
<div class="t" style="left:205.80px;top:37.92px;font-size:42.5px;color:#363745;font-weight:700;transform:scaleX(0.9389);">Scan Easy Buggy App</div>
<div class="t" style="left:643.52px;top:45.79px;font-size:26px;color:#4A4B5C;font-weight:400;transform:scaleX(0.9468);">(Build Id: 12)</div>
<svg style="position:absolute;left:208px;top:118px" width="32" height="32" viewBox="0 0 32 32" fill="none">
<defs><linearGradient id="sg" x1="0" y1="0" x2="1" y2="1"><stop offset="0" stop-color="#7DD3E6"/><stop offset="1" stop-color="#4C9BF0"/></linearGradient></defs>
<circle cx="16" cy="16" r="15" fill="url(#sg)"/>
<circle cx="16" cy="13.5" r="5" stroke="#fff" stroke-width="2.6"/>
<path d="M6 3 L28 26" stroke="#fff" stroke-width="2.4"/>
<circle cx="16" cy="13.5" r="3.6" fill="#6AC2EC"/>
</svg>
<div style="position:absolute;left:258px;top:111px;width:381px;height:46px;background:#EEF7FC;border-radius:16px"></div>
<svg style="position:absolute;left:275px;top:122px" width="26" height="25" viewBox="0 0 26 25" fill="none">
<path d="M3 4 Q12 1.5 21 4 L19.5 20 Q12 22.5 4.5 20 Z" stroke="#2C6FCB" stroke-width="2"/>
<path d="M3 4 Q12 7 21 4" stroke="#2C6FCB" stroke-width="2"/>
<path d="M9 11 L7 13 L9 15 M15 11 L17 13 L15 15 M13 10.5 L11 15.5" stroke="#2C6FCB" stroke-width="1.4"/>
</svg>
<div class="t" style="left:309.92px;top:118.39px;font-size:27.3px;color:#2C6FCB;font-weight:400;transform:scaleX(0.9852);-webkit-text-stroke:0.3px #2C6FCB">easy-buggy-app</div>
<div style="position:absolute;left:518px;top:119px;width:2px;height:30px;background:#B3DAF4"></div>
<svg style="position:absolute;left:535px;top:120px" width="26" height="28" viewBox="0 0 26 28" fill="none">
<circle cx="6" cy="5.5" r="3" fill="#2C6FCB"/><circle cx="20" cy="5.5" r="3" fill="#2C6FCB"/><circle cx="6" cy="22.5" r="3" fill="#2C6FCB"/>
<path d="M6 5.5 L6 22.5 M20 5.5 Q20 13 12 13 L6 13" stroke="#2C6FCB" stroke-width="2.4"/>
</svg>
<div class="t" style="left:567.71px;top:118.39px;font-size:27.3px;color:#2C6FCB;font-weight:400;transform:scaleX(0.9522);-webkit-text-stroke:0.3px #2C6FCB">main</div>
<svg style="position:absolute;left:669px;top:124px" width="32" height="20" viewBox="0 0 32 20" fill="none">
<circle cx="16" cy="10" r="6.5" stroke="#2B2C38" stroke-width="2.6"/>
<path d="M2 10 L9.5 10 M22.5 10 L30 10" stroke="#2B2C38" stroke-width="2.6" stroke-linecap="round"/>
</svg>
<div class="t" style="left:714.45px;top:119.77px;font-size:26.5px;color:#696D87;font-weight:400;transform:scaleX(0.9809);">Update Dockerfile</div>
<div style="position:absolute;left:945px;top:108px;width:136px;height:51px;background:#EEF8FA;border-radius:17px"></div>
<div class="t" style="left:960.77px;top:120.91px;font-size:25.5px;color:#2E7AD8;font-weight:700;transform:scaleX(1.0393);">9b349ce</div>
<svg style="position:absolute;left:1089px;top:119px" width="28" height="30" viewBox="0 0 28 30" fill="none">
<path d="M8 6.4 Q3 7.2 3 12 L3 26 Q3 27.4 4.4 27.4 L14.5 27.4 Q18 27.4 19 23.6" stroke="#2A2B36" stroke-width="1.8"/>
<path d="M13 2.9 L24.1 2.9 L24.1 17.8 Q24.1 23.3 18.7 23.3 L9.3 23.3 Q8 23.3 8 22 L8 8 Q8 2.9 13 2.9 Z" stroke="#2A2B36" stroke-width="1.8" fill="#F9FAFE"/>
<path d="M16 9.3 L16 17 M11.8 13.3 L20 13.3" stroke="#2A2B36" stroke-width="1.6"/>
</svg>
<div style="position:absolute;left:1135px;top:101px;width:2px;height:67px;background:#DCDEE7"></div>
<svg style="position:absolute;left:1147px;top:112px" width="30" height="30" viewBox="0 0 30 30" fill="none">
<circle cx="15" cy="14.5" r="14" fill="#787F8B"/>
<circle cx="15" cy="10.5" r="4.6" fill="#F9FAFE"/>
<path d="M6.5 22 Q15 14 23.5 22 Q15 28 6.5 22 Z" fill="#F9FAFE"/>
</svg>
<div class="t" style="left:1195.92px;top:110.48px;font-size:30.5px;color:#686C86;font-weight:400;transform:scaleX(0.9570);">Teja Kummarikuntla</div>
<div style="position:absolute;left:158px;top:191px;width:2806px;height:2px;background:#DCDDE6"></div>
<div class="t" style="left:269.30px;top:221.60px;font-size:30px;color:#2F303C;font-weight:400;transform:scaleX(1.0010);-webkit-text-stroke:0.45px #2F303C">Pipeline</div>
<div class="t" style="left:469.68px;top:221.60px;font-size:30px;color:#2F303C;font-weight:400;transform:scaleX(1.0449);-webkit-text-stroke:0.45px #2F303C">Inputs</div>
<div class="t" style="left:649.61px;top:221.60px;font-size:30px;color:#2F303C;font-weight:400;transform:scaleX(0.9979);-webkit-text-stroke:0.45px #2F303C">Policy Evaluations</div>
<div class="t" style="left:989.00px;top:221.60px;font-size:30px;color:#2F303C;font-weight:400;transform:scaleX(1.0620);-webkit-text-stroke:0.45px #2F303C">Artifacts</div>
<div class="t" style="left:1199.99px;top:221.60px;font-size:30px;color:#2F303C;font-weight:400;transform:scaleX(1.0060);-webkit-text-stroke:0.45px #2F303C">Commits</div>
<div class="t" style="left:1413.64px;top:221.60px;font-size:30px;color:#2F303C;font-weight:400;transform:scaleX(1.0054);-webkit-text-stroke:0.45px #2F303C">Supply Chain</div>
<div class="t" style="left:1687.88px;top:221.60px;font-size:30px;color:#2F303C;font-weight:400;transform:scaleX(1.0307);-webkit-text-stroke:0.45px #2F303C">Tests</div>
<div class="t" style="left:1855.86px;top:221.60px;font-size:30px;color:#2E74D0;font-weight:700;transform:scaleX(0.9580);">Vulnerabilities</div>
<svg style="position:absolute;left:224px;top:220px" width="28" height="36" viewBox="0 0 28 36" fill="none">
<path d="M14 4.2 L14 31.7" stroke="#6B6E87" stroke-width="4" stroke-linecap="round"/>
<rect x="2" y="5.7" width="24" height="10" rx="2" fill="#6B6E87"/>
<rect x="8" y="20" width="12" height="10" rx="2.5" fill="#6B6E87"/>
</svg>
<svg style="position:absolute;left:422px;top:222px" width="36" height="32" viewBox="0 0 36 32" fill="none">
<path d="M3.8 5.7 L23 5.7 M3.8 13.8 L17 13.8 M27 13.8 L32 13.8 M3.8 21.9 L7 21.9 M20 21.9 L32 21.9" stroke="#6B6E87" stroke-width="3.6" stroke-linecap="round"/>
<path d="M13.5 23.5 L31 5.5" stroke="#F9FAFE" stroke-width="10" stroke-linecap="round"/>
<path d="M13.5 23.5 L31 5.5" stroke="#6B6E87" stroke-width="6" stroke-linecap="round"/>
<path d="M11.5 20.8 L15.8 25.2" stroke="#F9FAFE" stroke-width="1.6"/>
<path d="M10 22.5 L14 26.5 L5.5 29.5 Z" fill="#6B6E87"/>
</svg>
<svg style="position:absolute;left:604px;top:221px" width="30" height="34" viewBox="0 0 30 34" fill="none">
<path d="M18 3 L5.5 3 Q3 3 3 5.5 L3 25.5 L15.5 31.5 L27.5 25.5 L27.5 13" stroke="#3A3C4C" stroke-width="2"/>
<path d="M9.5 15 L15.5 20 L27.5 7.5" stroke="#3A3C4C" stroke-width="2"/>
</svg>
<svg style="position:absolute;left:939px;top:220px" width="34" height="28" viewBox="0 0 34 28" fill="none">
<path d="M3.5 8 L16 8 M3.5 16 L19 16 M3.5 24 L19 24 M26 2.5 L26 13 M20.8 7.8 L31.3 7.8" stroke="#6B6E87" stroke-width="3.5" stroke-linecap="round"/>
</svg>
<svg style="position:absolute;left:1150px;top:228px" width="36" height="20" viewBox="0 0 36 20" fill="none">
<circle cx="18" cy="10" r="6.2" stroke="#6B6E87" stroke-width="3.6"/>
<path d="M3.5 10 L11 10 M25 10 L32.5 10" stroke="#6B6E87" stroke-width="3.6" stroke-linecap="round"/>
</svg>
<svg style="position:absolute;left:1366px;top:221px" width="34" height="34" viewBox="0 0 34 34" fill="none">
<path d="M1.5 1 L32 1 L32 11 Q32 24 16.5 32.5 Q1.5 24 1.5 11 Z" fill="#6B6E87"/>
<path d="M9.5 13 L20.5 7.5 M9.5 13 L19 22.5" stroke="#F9FAFE" stroke-width="2"/>
<circle cx="20.5" cy="7.5" r="3.6" fill="#6B6E87" stroke="#F9FAFE" stroke-width="1.8"/>
<circle cx="9.5" cy="13" r="3.6" fill="#6B6E87" stroke="#F9FAFE" stroke-width="1.8"/>
<circle cx="19.2" cy="22.6" r="4" fill="#6B6E87" stroke="#F9FAFE" stroke-width="1.8"/>
</svg>
<svg style="position:absolute;left:1642px;top:222px" width="28" height="32" viewBox="0 0 28 32" fill="none">
<rect x="6.5" y="2" width="15.5" height="3.6" rx="1.8" fill="#6B6E87"/>
<path d="M8.5 4 L8.5 10 L2.5 26 Q2 29.5 5 29.5 L23 29.5 Q26 29.5 25.5 26 L19.5 10 L19.5 4 Z" fill="#6B6E87"/>
<path d="M11.2 6.5 L16.8 6.5 L16.8 11 L19.8 20 L8.2 20 L11.2 11 Z" fill="#F9FAFE"/>
</svg>
<svg style="position:absolute;left:1810px;top:222px" width="28" height="32" viewBox="0 0 28 32" fill="none">
<path d="M14 2 Q8 5 2.5 6 L2.5 15 Q2.5 24 14 30 Q25.5 24 25.5 15 L25.5 6 Q20 5 14 2 Z" fill="#6B6E87"/>
<circle cx="13.8" cy="14.5" r="4.5" stroke="#F9FAFE" stroke-width="2.2"/>
<path d="M18 17 L26 21" stroke="#F9FAFE" stroke-width="2.4"/>
</svg>
<div style="position:absolute;left:1792px;top:275.8px;width:274px;height:4.2px;background:#2E74D0;border-radius:3px 3px 0 0"></div>
<div style="position:absolute;left:215px;top:262px;width:2672px;height:23.5px;background:#FFFFFF;border-radius:0 0 9px 9px;box-shadow:0 1.5px 3px rgba(0,0,0,0.07);clip-path:inset(20px -10px -10px -10px)"></div>
<div style="position:absolute;left:158px;top:280px;width:2806px;height:2px;background:#DCDDE6"></div>
<div style="position:absolute;left:208px;top:318px;width:2685px;height:1400px;background:#FFFFFF;border-radius:14px;box-shadow:0 0 2px rgba(40,41,61,0.08)"></div>
<div class="t" style="left:257.06px;top:390.03px;font-size:29.5px;color:#696D87;font-weight:700;transform:scaleX(0.9665);">Common to</div>
<div class="t" style="left:422.07px;top:390.03px;font-size:29.5px;color:#696D87;font-weight:400;transform:scaleX(1.0046);">previous scan</div>
<div class="t" style="left:633.50px;top:384.99px;font-size:39px;color:#696D87;font-weight:700;transform:scaleX(0.9630);">72 Issues</div>
<svg style="position:absolute;left:814px;top:395px" width="30" height="20" viewBox="0 0 30 20" fill="none">
<path d="M3 16.5 L15 4 L27 16.5" stroke="#2E74D0" stroke-width="3.6" stroke-linejoin="miter"/>
</svg>
<div style="position:absolute;left:1880px;top:361px;width:152px;height:89px;background:#F8E7E6;border-radius:9px"></div>
<div class="t" style="left:1901.39px;top:376.87px;font-size:25.2px;color:#8C91AC;font-weight:400;transform:scaleX(1.0407);">Critical</div>
<div class="t" style="left:1901.29px;top:406.54px;font-size:25px;color:#A1261B;font-weight:700;transform:scaleX(0.9426);">17</div>
<div style="position:absolute;left:2042px;top:361px;width:150px;height:89px;background:#FCF0E6;border-radius:9px"></div>
<div class="t" style="left:2062.56px;top:376.87px;font-size:25.2px;color:#8C91AC;font-weight:400;transform:scaleX(1.0596);">High</div>
<div class="t" style="left:2063.72px;top:406.54px;font-size:25px;color:#E45A23;font-weight:700;transform:scaleX(1.1215);">28</div>
<div style="position:absolute;left:2202px;top:361px;width:150px;height:89px;background:#FDF0C7;border-radius:9px"></div>
<div class="t" style="left:2222.61px;top:376.87px;font-size:25.2px;color:#8C91AC;font-weight:400;transform:scaleX(1.0365);">Medium</div>
<div class="t" style="left:2223.17px;top:406.54px;font-size:25px;color:#E3852E;font-weight:700;transform:scaleX(1.0167);">19</div>
<div style="position:absolute;left:2362px;top:361px;width:150px;height:89px;background:#E8E8FA;border-radius:9px"></div>
<div class="t" style="left:2382.65px;top:376.87px;font-size:25.2px;color:#8C91AC;font-weight:400;transform:scaleX(1.0152);">Low</div>
<div class="t" style="left:2383.68px;top:406.54px;font-size:25px;color:#272A8A;font-weight:700;transform:scaleX(1.1711);">6</div>
<div style="position:absolute;left:2522px;top:361px;width:150px;height:89px;background:transparent;border-radius:9px"></div>
<div class="t" style="left:2542.30px;top:376.87px;font-size:25.2px;color:#8C91AC;font-weight:400;transform:scaleX(1.0599);">Info</div>
<div class="t" style="left:2543.74px;top:406.54px;font-size:25px;color:#6B6E87;font-weight:700;transform:scaleX(1.1000);">2</div>
<div style="position:absolute;left:2682px;top:361px;width:150px;height:89px;background:transparent;border-radius:9px"></div>
<div class="t" style="left:2702.64px;top:376.87px;font-size:25.2px;color:#8C91AC;font-weight:400;transform:scaleX(1.0196);">Exempted</div>
<div class="t" style="left:2703.47px;top:406.54px;font-size:25px;color:#6B6E87;font-weight:700;transform:scaleX(1.2295);">0</div>
<div style="position:absolute;left:2036px;top:361px;width:2px;height:89px;background:#EFF0F7"></div>
<div style="position:absolute;left:2196px;top:361px;width:2px;height:89px;background:#EFF0F7"></div>
<div style="position:absolute;left:2356px;top:361px;width:2px;height:89px;background:#EFF0F7"></div>
<div style="position:absolute;left:2516px;top:361px;width:2px;height:89px;background:#EFF0F7"></div>
<div style="position:absolute;left:2676px;top:361px;width:2px;height:89px;background:#EFF0F7"></div>
<div class="t" style="left:280.33px;top:517.64px;font-size:25px;color:#0B0C10;font-weight:700;transform:scaleX(0.8947);">SEVERITY</div>
<div class="t" style="left:518.16px;top:517.64px;font-size:25px;color:#0B0C10;font-weight:700;transform:scaleX(0.8855);">ISSUE</div>
<div class="t" style="left:1548.72px;top:517.64px;font-size:25px;color:#0B0C10;font-weight:700;transform:scaleX(0.8815);">OCCURRENCES</div>
<div class="t" style="left:1867.58px;top:517.64px;font-size:25px;color:#0B0C10;font-weight:700;transform:scaleX(0.8727);">TARGET</div>
<div class="t" style="left:2374.71px;top:517.64px;font-size:25px;color:#0B0C10;font-weight:700;transform:scaleX(0.9194);">STATUS</div>
<div style="position:absolute;left:2850px;top:592px;width:10px;height:299px;background:#D8D9E4;border-radius:3px 3px 5px 5px"></div>
<div style="position:absolute;left:242.3px;top:592.0px;width:2602px;height:114.3px;background:#fff;border-radius:7px;box-shadow:0 0 1.5px rgba(0,0,0,0.14),1px 2px 4px rgba(0,0,0,0.06)"></div>
<div style="position:absolute;left:277px;top:625.0px;width:145px;height:46.5px;background:#F8E6E6;border-radius:9px"></div>
<div class="t" style="left:293.04px;top:635.14px;font-size:25.7px;color:#A8261B;font-weight:700;transform:scaleX(0.9374);">CRITICAL</div>
<div class="t" style="left:513.01px;top:633.35px;font-size:30.3px;color:#636781;font-weight:400;transform:scaleX(0.9810);">CVE-2005-2541: tar@1.34+dfsg-1 (os-pkgs, debian)</div>
<div style="position:absolute;left:1236.5px;top:630.2px;width:122px;height:37.6px;background:#F0F9FD;border:2px solid #AFE2FA;border-radius:19px"></div>
<svg style="position:absolute;left:1254.0px;top:639.5px" width="24" height="20" viewBox="0 0 24 20" fill="none"><path d="M0.6 12.4 L4.4 10.6 L12 14.2 L19.6 10.6 L23.4 12.4 L12 18.2 Z" fill="#3C8ADC"/><path d="M2.2 8.3 L12 12.7 L21.8 8.3" stroke="#3C8ADC" stroke-width="1.3"/><path d="M12 1.6 L21.6 5.9 L12 10.2 L2.4 5.9 Z" fill="#F0F9FD" stroke="#3C8ADC" stroke-width="1.4" stroke-linejoin="round"/></svg>
<div class="t" style="left:1293.62px;top:637.55px;font-size:21.8px;color:#3483DC;font-weight:700;transform:scaleX(0.9034);">Base</div>
<div class="t" style="left:1567.96px;top:635.64px;font-size:25.7px;color:#1E1F26;font-weight:400;transform:scaleX(1.0533);-webkit-text-stroke:0.5px #1E1F26">4</div>
<div style="position:absolute;left:1618px;top:628.0px;width:75.77070707070705px;height:41.5px;background:#FDF1EC;border-radius:21px"></div>
<svg style="position:absolute;left:1640.8px;top:640.3px" width="15" height="9" viewBox="0 0 15 9" fill="none"><path d="M7.2 0 L14.4 9 L0 9 Z" fill="#D9412B"/></svg>
<div class="t" style="left:1662.06px;top:635.64px;font-size:25.7px;color:#D9412B;font-weight:400;transform:scaleX(1.0533);-webkit-text-stroke:0.5px #D9412B">4</div>
<div style="position:absolute;left:1703.770707070707px;top:628.0px;width:75.77070707070705px;height:41.5px;background:#E8F5E4;border-radius:21px"></div>
<svg style="position:absolute;left:1726.770707070707px;top:640.3px" width="15" height="9" viewBox="0 0 15 9" fill="none"><path d="M0 0 L14.4 0 L7.2 9 Z" fill="#3D8A2C"/></svg>
<div class="t" style="left:1748.23px;top:635.64px;font-size:25.7px;color:#3D8A2C;font-weight:400;transform:scaleX(1.0533);-webkit-text-stroke:0.5px #3D8A2C">4</div>
<div class="t" style="left:1850.64px;top:633.40px;font-size:30.0px;color:#636781;font-weight:400;transform:scaleX(1.0124);">tejakummarikuntla/easy-buggy-a...</div>
<div class="t" style="left:2364.19px;top:637.03px;font-size:21.7px;color:#6B6F88;font-weight:700;transform:scaleX(0.9279);">PENDING</div>
<div style="position:absolute;left:242.3px;top:722.9px;width:2602px;height:114.3px;background:#fff;border-radius:7px;box-shadow:0 0 1.5px rgba(0,0,0,0.14),1px 2px 4px rgba(0,0,0,0.06)"></div>
<div style="position:absolute;left:277px;top:755.9px;width:145px;height:46.5px;background:#F8E6E6;border-radius:9px"></div>
<div class="t" style="left:293.04px;top:766.04px;font-size:25.7px;color:#A8261B;font-weight:700;transform:scaleX(0.9374);">CRITICAL</div>
<div class="t" style="left:513.00px;top:764.25px;font-size:30.3px;color:#636781;font-weight:400;transform:scaleX(0.9879);">CVE-2015-7501: commons-collections:commons-collections...</div>
<div style="position:absolute;left:1389.3px;top:761.1px;width:113.5px;height:37.6px;background:#F3F3F9;border:2px solid #D8D9E5;border-radius:19px"></div>
<svg style="position:absolute;left:1407.0px;top:769.4px" width="24" height="21" viewBox="0 0 24 21" fill="none"><path d="M12 1 L23.5 6.5 L12 12 L0.5 6.5 Z" fill="#6B6D85"/><path d="M0.8 10.5 L12 16 L23.2 10.5" stroke="#6B6D85" stroke-width="3" stroke-linejoin="round"/><path d="M0.8 14.7 L12 20.2 L23.2 14.7" stroke="#6B6D85" stroke-width="3" stroke-linejoin="round"/></svg>
<div class="t" style="left:1447.00px;top:768.82px;font-size:21px;color:#3F4254;font-weight:400;transform:scaleX(1.0235);">App</div>
<div class="t" style="left:1567.15px;top:766.54px;font-size:25.7px;color:#1E1F26;font-weight:400;transform:scaleX(1.0533);-webkit-text-stroke:0.5px #1E1F26">2</div>
<div class="t" style="left:1850.64px;top:764.30px;font-size:30.0px;color:#636781;font-weight:400;transform:scaleX(1.0124);">tejakummarikuntla/easy-buggy-a...</div>
<div style="position:absolute;left:242.3px;top:853.8px;width:2602px;height:114.3px;background:#fff;border-radius:7px;box-shadow:0 0 1.5px rgba(0,0,0,0.14),1px 2px 4px rgba(0,0,0,0.06)"></div>
<div style="position:absolute;left:277px;top:886.8px;width:145px;height:46.5px;background:#F8E6E6;border-radius:9px"></div>
<div class="t" style="left:293.04px;top:896.94px;font-size:25.7px;color:#A8261B;font-weight:700;transform:scaleX(0.9374);">CRITICAL</div>
<div class="t" style="left:513.01px;top:895.15px;font-size:30.3px;color:#636781;font-weight:400;transform:scaleX(0.9867);">CVE-2016-1000031: commons-fileupload:commons-fileuploa...</div>
<div style="position:absolute;left:1389.4px;top:892.0px;width:113.5px;height:37.6px;background:#F3F3F9;border:2px solid #D8D9E5;border-radius:19px"></div>
<svg style="position:absolute;left:1407.1000000000001px;top:900.3px" width="24" height="21" viewBox="0 0 24 21" fill="none"><path d="M12 1 L23.5 6.5 L12 12 L0.5 6.5 Z" fill="#6B6D85"/><path d="M0.8 10.5 L12 16 L23.2 10.5" stroke="#6B6D85" stroke-width="3" stroke-linejoin="round"/><path d="M0.8 14.7 L12 20.2 L23.2 14.7" stroke="#6B6D85" stroke-width="3" stroke-linejoin="round"/></svg>
<div class="t" style="left:1447.10px;top:899.72px;font-size:21px;color:#3F4254;font-weight:400;transform:scaleX(1.0235);">App</div>
<div class="t" style="left:1567.96px;top:897.44px;font-size:25.7px;color:#1E1F26;font-weight:400;transform:scaleX(1.0533);-webkit-text-stroke:0.5px #1E1F26">4</div>
<div class="t" style="left:1850.64px;top:895.20px;font-size:30.0px;color:#636781;font-weight:400;transform:scaleX(1.0124);">tejakummarikuntla/easy-buggy-a...</div>
<div style="position:absolute;left:242.3px;top:984.7px;width:2602px;height:114.3px;background:#fff;border-radius:7px;box-shadow:0 0 1.5px rgba(0,0,0,0.14),1px 2px 4px rgba(0,0,0,0.06)"></div>
<div style="position:absolute;left:277px;top:1017.7px;width:145px;height:46.5px;background:#F8E6E6;border-radius:9px"></div>
<div class="t" style="left:293.04px;top:1027.84px;font-size:25.7px;color:#A8261B;font-weight:700;transform:scaleX(0.9374);">CRITICAL</div>
<div class="t" style="left:513.02px;top:1026.05px;font-size:30.3px;color:#636781;font-weight:400;transform:scaleX(0.9749);">CVE-2019-1010022: libc-bin@2.31-13+deb11u3 (os-pkgs, de...</div>
<div style="position:absolute;left:1380.4px;top:1022.9000000000001px;width:122px;height:37.6px;background:#F0F9FD;border:2px solid #AFE2FA;border-radius:19px"></div>
<svg style="position:absolute;left:1397.9px;top:1032.2px" width="24" height="20" viewBox="0 0 24 20" fill="none"><path d="M0.6 12.4 L4.4 10.6 L12 14.2 L19.6 10.6 L23.4 12.4 L12 18.2 Z" fill="#3C8ADC"/><path d="M2.2 8.3 L12 12.7 L21.8 8.3" stroke="#3C8ADC" stroke-width="1.3"/><path d="M12 1.6 L21.6 5.9 L12 10.2 L2.4 5.9 Z" fill="#F0F9FD" stroke="#3C8ADC" stroke-width="1.4" stroke-linejoin="round"/></svg>
<div class="t" style="left:1437.52px;top:1030.25px;font-size:21.8px;color:#3483DC;font-weight:700;transform:scaleX(0.9034);">Base</div>
<div class="t" style="left:1566.47px;top:1028.34px;font-size:25.7px;color:#1E1F26;font-weight:400;transform:scaleX(1.0533);-webkit-text-stroke:0.5px #1E1F26">19</div>
<div style="position:absolute;left:1618px;top:1020.7px;width:88.89999999999995px;height:41.5px;background:#FDF1EC;border-radius:21px"></div>
<svg style="position:absolute;left:1640.8px;top:1033.0px" width="15" height="9" viewBox="0 0 15 9" fill="none"><path d="M7.2 0 L14.4 9 L0 9 Z" fill="#D9412B"/></svg>
<div class="t" style="left:1660.57px;top:1028.34px;font-size:25.7px;color:#D9412B;font-weight:400;transform:scaleX(1.0533);-webkit-text-stroke:0.5px #D9412B">19</div>
<div style="position:absolute;left:1716.8999999999999px;top:1020.7px;width:88.89999999999995px;height:41.5px;background:#E8F5E4;border-radius:21px"></div>
<svg style="position:absolute;left:1739.8999999999999px;top:1033.0px" width="15" height="9" viewBox="0 0 15 9" fill="none"><path d="M0 0 L14.4 0 L7.2 9 Z" fill="#3D8A2C"/></svg>
<div class="t" style="left:1759.87px;top:1028.34px;font-size:25.7px;color:#3D8A2C;font-weight:400;transform:scaleX(1.0533);-webkit-text-stroke:0.5px #3D8A2C">19</div>
<div class="t" style="left:1850.64px;top:1026.11px;font-size:30.0px;color:#636781;font-weight:400;transform:scaleX(1.0124);">tejakummarikuntla/easy-buggy-a...</div>
<div style="position:absolute;left:242.3px;top:1115.6px;width:2602px;height:114.3px;background:#fff;border-radius:7px;box-shadow:0 0 1.5px rgba(0,0,0,0.14),1px 2px 4px rgba(0,0,0,0.06)"></div>
<div style="position:absolute;left:277px;top:1148.6px;width:145px;height:46.5px;background:#F8E6E6;border-radius:9px"></div>
<div class="t" style="left:293.04px;top:1158.74px;font-size:25.7px;color:#A8261B;font-weight:700;transform:scaleX(0.9374);">CRITICAL</div>
<div class="t" style="left:513.03px;top:1156.95px;font-size:30.3px;color:#636781;font-weight:400;transform:scaleX(0.9722);">CVE-2019-1010022: libc6@2.31-13+deb11u3 (os-pkgs, debian)</div>
<div style="position:absolute;left:1379.2px;top:1153.8px;width:122px;height:37.6px;background:#F0F9FD;border:2px solid #AFE2FA;border-radius:19px"></div>
<svg style="position:absolute;left:1396.7px;top:1163.1px" width="24" height="20" viewBox="0 0 24 20" fill="none"><path d="M0.6 12.4 L4.4 10.6 L12 14.2 L19.6 10.6 L23.4 12.4 L12 18.2 Z" fill="#3C8ADC"/><path d="M2.2 8.3 L12 12.7 L21.8 8.3" stroke="#3C8ADC" stroke-width="1.3"/><path d="M12 1.6 L21.6 5.9 L12 10.2 L2.4 5.9 Z" fill="#F0F9FD" stroke="#3C8ADC" stroke-width="1.4" stroke-linejoin="round"/></svg>
<div class="t" style="left:1436.32px;top:1161.15px;font-size:21.8px;color:#3483DC;font-weight:700;transform:scaleX(0.9034);">Base</div>
<div class="t" style="left:1566.47px;top:1159.24px;font-size:25.7px;color:#1E1F26;font-weight:400;transform:scaleX(1.0533);-webkit-text-stroke:0.5px #1E1F26">19</div>
<div style="position:absolute;left:1618px;top:1151.6px;width:88.89999999999995px;height:41.5px;background:#FDF1EC;border-radius:21px"></div>
<svg style="position:absolute;left:1640.8px;top:1163.8999999999999px" width="15" height="9" viewBox="0 0 15 9" fill="none"><path d="M7.2 0 L14.4 9 L0 9 Z" fill="#D9412B"/></svg>
<div class="t" style="left:1660.57px;top:1159.24px;font-size:25.7px;color:#D9412B;font-weight:400;transform:scaleX(1.0533);-webkit-text-stroke:0.5px #D9412B">19</div>
<div style="position:absolute;left:1716.8999999999999px;top:1151.6px;width:88.89999999999995px;height:41.5px;background:#E8F5E4;border-radius:21px"></div>
<svg style="position:absolute;left:1739.8999999999999px;top:1163.8999999999999px" width="15" height="9" viewBox="0 0 15 9" fill="none"><path d="M0 0 L14.4 0 L7.2 9 Z" fill="#3D8A2C"/></svg>
<div class="t" style="left:1759.87px;top:1159.24px;font-size:25.7px;color:#3D8A2C;font-weight:400;transform:scaleX(1.0533);-webkit-text-stroke:0.5px #3D8A2C">19</div>
<div class="t" style="left:1850.64px;top:1157.00px;font-size:30.0px;color:#636781;font-weight:400;transform:scaleX(1.0124);">tejakummarikuntla/easy-buggy-a...</div>
<div style="position:absolute;left:242.3px;top:1246.5px;width:2602px;height:114.3px;background:#fff;border-radius:7px;box-shadow:0 0 1.5px rgba(0,0,0,0.14),1px 2px 4px rgba(0,0,0,0.06)"></div>
<div style="position:absolute;left:277px;top:1279.5px;width:145px;height:46.5px;background:#F8E6E6;border-radius:9px"></div>
<div class="t" style="left:293.04px;top:1289.64px;font-size:25.7px;color:#A8261B;font-weight:700;transform:scaleX(0.9374);">CRITICAL</div>
<div class="t" style="left:513.05px;top:1287.85px;font-size:30.3px;color:#636781;font-weight:400;transform:scaleX(0.9558);">CVE-2019-17571: log4j:log4j@1.2.13 (lang-pkgs, jar)</div>
<div style="position:absolute;left:1227.2px;top:1284.7px;width:113.5px;height:37.6px;background:#F3F3F9;border:2px solid #D8D9E5;border-radius:19px"></div>
<svg style="position:absolute;left:1244.9px;top:1293.0px" width="24" height="21" viewBox="0 0 24 21" fill="none"><path d="M12 1 L23.5 6.5 L12 12 L0.5 6.5 Z" fill="#6B6D85"/><path d="M0.8 10.5 L12 16 L23.2 10.5" stroke="#6B6D85" stroke-width="3" stroke-linejoin="round"/><path d="M0.8 14.7 L12 20.2 L23.2 14.7" stroke="#6B6D85" stroke-width="3" stroke-linejoin="round"/></svg>
<div class="t" style="left:1284.90px;top:1292.42px;font-size:21px;color:#3F4254;font-weight:400;transform:scaleX(1.0235);">App</div>
<div class="t" style="left:1567.15px;top:1290.14px;font-size:25.7px;color:#1E1F26;font-weight:400;transform:scaleX(1.0533);-webkit-text-stroke:0.5px #1E1F26">6</div>
<div class="t" style="left:1850.64px;top:1287.90px;font-size:30.0px;color:#636781;font-weight:400;transform:scaleX(1.0124);">tejakummarikuntla/easy-buggy-a...</div>
<div style="position:absolute;left:242.3px;top:1377.4px;width:2602px;height:114.3px;background:#fff;border-radius:7px;box-shadow:0 0 1.5px rgba(0,0,0,0.14),1px 2px 4px rgba(0,0,0,0.06)"></div>
<div style="position:absolute;left:277px;top:1410.4px;width:145px;height:46.5px;background:#F8E6E6;border-radius:9px"></div>
<div class="t" style="left:293.04px;top:1420.54px;font-size:25.7px;color:#A8261B;font-weight:700;transform:scaleX(0.9374);">CRITICAL</div>
<div class="t" style="left:513.01px;top:1418.75px;font-size:30.3px;color:#636781;font-weight:400;transform:scaleX(0.9846);">CVE-2019-8457: libdb5.3@5.3.28+dfsg1-0.8 (os-pkgs, debian)</div>
<div style="position:absolute;left:1374.3px;top:1415.6000000000001px;width:122px;height:37.6px;background:#F0F9FD;border:2px solid #AFE2FA;border-radius:19px"></div>
<svg style="position:absolute;left:1391.8px;top:1424.9px" width="24" height="20" viewBox="0 0 24 20" fill="none"><path d="M0.6 12.4 L4.4 10.6 L12 14.2 L19.6 10.6 L23.4 12.4 L12 18.2 Z" fill="#3C8ADC"/><path d="M2.2 8.3 L12 12.7 L21.8 8.3" stroke="#3C8ADC" stroke-width="1.3"/><path d="M12 1.6 L21.6 5.9 L12 10.2 L2.4 5.9 Z" fill="#F0F9FD" stroke="#3C8ADC" stroke-width="1.4" stroke-linejoin="round"/></svg>
<div class="t" style="left:1431.42px;top:1422.95px;font-size:21.8px;color:#3483DC;font-weight:700;transform:scaleX(0.9034);">Base</div>
<div class="t" style="left:1566.47px;top:1421.04px;font-size:25.7px;color:#1E1F26;font-weight:400;transform:scaleX(1.0533);-webkit-text-stroke:0.5px #1E1F26">1</div>
<div style="position:absolute;left:1618px;top:1413.4px;width:73.87575757575756px;height:41.5px;background:#FDF1EC;border-radius:21px"></div>
<svg style="position:absolute;left:1640.8px;top:1425.7px" width="15" height="9" viewBox="0 0 15 9" fill="none"><path d="M7.2 0 L14.4 9 L0 9 Z" fill="#D9412B"/></svg>
<div class="t" style="left:1660.57px;top:1421.04px;font-size:25.7px;color:#D9412B;font-weight:400;transform:scaleX(1.0533);-webkit-text-stroke:0.5px #D9412B">1</div>
<div style="position:absolute;left:1701.8757575757575px;top:1413.4px;width:73.87575757575756px;height:41.5px;background:#E8F5E4;border-radius:21px"></div>
<svg style="position:absolute;left:1724.8757575757575px;top:1425.7px" width="15" height="9" viewBox="0 0 15 9" fill="none"><path d="M0 0 L14.4 0 L7.2 9 Z" fill="#3D8A2C"/></svg>
<div class="t" style="left:1744.85px;top:1421.04px;font-size:25.7px;color:#3D8A2C;font-weight:400;transform:scaleX(1.0533);-webkit-text-stroke:0.5px #3D8A2C">1</div>
<div class="t" style="left:1850.64px;top:1418.81px;font-size:30.0px;color:#636781;font-weight:400;transform:scaleX(1.0124);">tejakummarikuntla/easy-buggy-a...</div>
<div style="position:absolute;left:242.3px;top:1508.3000000000002px;width:2602px;height:114.3px;background:#fff;border-radius:7px;box-shadow:0 0 1.5px rgba(0,0,0,0.14),1px 2px 4px rgba(0,0,0,0.06)"></div>
<div style="position:absolute;left:277px;top:1541.3000000000002px;width:145px;height:46.5px;background:#F8E6E6;border-radius:9px"></div>
<div class="t" style="left:293.04px;top:1551.44px;font-size:25.7px;color:#A8261B;font-weight:700;transform:scaleX(0.9374);">CRITICAL</div>
<div class="t" style="left:513.02px;top:1549.65px;font-size:30.3px;color:#636781;font-weight:400;transform:scaleX(0.9797);">CVE-2021-46848: libtasn1-6@4.16.0-2 (os-pkgs, debian)</div>
<div style="position:absolute;left:1297.5px;top:1546.5000000000002px;width:122px;height:37.6px;background:#F0F9FD;border:2px solid #AFE2FA;border-radius:19px"></div>
<svg style="position:absolute;left:1315.0px;top:1555.8000000000002px" width="24" height="20" viewBox="0 0 24 20" fill="none"><path d="M0.6 12.4 L4.4 10.6 L12 14.2 L19.6 10.6 L23.4 12.4 L12 18.2 Z" fill="#3C8ADC"/><path d="M2.2 8.3 L12 12.7 L21.8 8.3" stroke="#3C8ADC" stroke-width="1.3"/><path d="M12 1.6 L21.6 5.9 L12 10.2 L2.4 5.9 Z" fill="#F0F9FD" stroke="#3C8ADC" stroke-width="1.4" stroke-linejoin="round"/></svg>
<div class="t" style="left:1354.62px;top:1553.85px;font-size:21.8px;color:#3483DC;font-weight:700;transform:scaleX(0.9034);">Base</div>
<div class="t" style="left:1567.15px;top:1551.94px;font-size:25.7px;color:#1E1F26;font-weight:400;transform:scaleX(1.0533);-webkit-text-stroke:0.5px #1E1F26">2</div>
<div style="position:absolute;left:1618px;top:1544.3000000000002px;width:74.4171717171717px;height:41.5px;background:#FDF1EC;border-radius:21px"></div>
<svg style="position:absolute;left:1640.8px;top:1556.6000000000001px" width="15" height="9" viewBox="0 0 15 9" fill="none"><path d="M7.2 0 L14.4 9 L0 9 Z" fill="#D9412B"/></svg>
<div class="t" style="left:1661.25px;top:1551.94px;font-size:25.7px;color:#D9412B;font-weight:400;transform:scaleX(1.0533);-webkit-text-stroke:0.5px #D9412B">2</div>
<div style="position:absolute;left:1702.4171717171716px;top:1544.3000000000002px;width:74.4171717171717px;height:41.5px;background:#E8F5E4;border-radius:21px"></div>
<svg style="position:absolute;left:1725.4171717171716px;top:1556.6000000000001px" width="15" height="9" viewBox="0 0 15 9" fill="none"><path d="M0 0 L14.4 0 L7.2 9 Z" fill="#3D8A2C"/></svg>
<div class="t" style="left:1746.06px;top:1551.94px;font-size:25.7px;color:#3D8A2C;font-weight:400;transform:scaleX(1.0533);-webkit-text-stroke:0.5px #3D8A2C">2</div>
<div class="t" style="left:1850.64px;top:1549.71px;font-size:30.0px;color:#636781;font-weight:400;transform:scaleX(1.0124);">tejakummarikuntla/easy-buggy-a...</div>
<div style="position:absolute;left:242.3px;top:1639.2px;width:2602px;height:114.3px;background:#fff;border-radius:7px;box-shadow:0 0 1.5px rgba(0,0,0,0.14),1px 2px 4px rgba(0,0,0,0.06)"></div>
<div style="position:absolute;left:277px;top:1672.2px;width:145px;height:46.5px;background:#F8E6E6;border-radius:9px"></div>
<div class="t" style="left:293.04px;top:1682.34px;font-size:25.7px;color:#A8261B;font-weight:700;transform:scaleX(0.9374);">CRITICAL</div>
<div class="t" style="left:513.15px;top:1680.55px;font-size:30.3px;color:#636781;font-weight:400;transform:scaleX(0.8922);">CVE-2021-3997: systemd@247.3-7+deb11u1 (os-pkgs, debian)</div>
<div style="position:absolute;left:1310.5px;top:1677.4px;width:122px;height:37.6px;background:#F0F9FD;border:2px solid #AFE2FA;border-radius:19px"></div>
<svg style="position:absolute;left:1328.0px;top:1686.7px" width="24" height="20" viewBox="0 0 24 20" fill="none"><path d="M0.6 12.4 L4.4 10.6 L12 14.2 L19.6 10.6 L23.4 12.4 L12 18.2 Z" fill="#3C8ADC"/><path d="M2.2 8.3 L12 12.7 L21.8 8.3" stroke="#3C8ADC" stroke-width="1.3"/><path d="M12 1.6 L21.6 5.9 L12 10.2 L2.4 5.9 Z" fill="#F0F9FD" stroke="#3C8ADC" stroke-width="1.4" stroke-linejoin="round"/></svg>
<div class="t" style="left:1367.62px;top:1684.75px;font-size:21.8px;color:#3483DC;font-weight:700;transform:scaleX(0.9034);">Base</div>
<div class="t" style="left:1567.15px;top:1682.84px;font-size:25.7px;color:#1E1F26;font-weight:400;transform:scaleX(1.0533);-webkit-text-stroke:0.5px #1E1F26">2</div>
<div style="position:absolute;left:1618px;top:1675.2px;width:74.4171717171717px;height:41.5px;background:#FDF1EC;border-radius:21px"></div>
<svg style="position:absolute;left:1640.8px;top:1687.5px" width="15" height="9" viewBox="0 0 15 9" fill="none"><path d="M7.2 0 L14.4 9 L0 9 Z" fill="#D9412B"/></svg>
<div class="t" style="left:1661.25px;top:1682.84px;font-size:25.7px;color:#D9412B;font-weight:400;transform:scaleX(1.0533);-webkit-text-stroke:0.5px #D9412B">2</div>
<div style="position:absolute;left:1702.4171717171716px;top:1675.2px;width:74.4171717171717px;height:41.5px;background:#E8F5E4;border-radius:21px"></div>
<svg style="position:absolute;left:1725.4171717171716px;top:1687.5px" width="15" height="9" viewBox="0 0 15 9" fill="none"><path d="M0 0 L14.4 0 L7.2 9 Z" fill="#3D8A2C"/></svg>
<div class="t" style="left:1746.06px;top:1682.84px;font-size:25.7px;color:#3D8A2C;font-weight:400;transform:scaleX(1.0533);-webkit-text-stroke:0.5px #3D8A2C">2</div>
<div class="t" style="left:1850.64px;top:1680.61px;font-size:30.0px;color:#636781;font-weight:400;transform:scaleX(1.0124);">tejakummarikuntla/easy-buggy-a...</div>
<div style="position:absolute;left:2684px;top:1532px;width:196px;height:64px;border-radius:32px;
background:linear-gradient(#fff,#fff) padding-box, linear-gradient(90deg,#E27BB8,#6A3BE0 45%,#5F8FE0 75%,#6CD0E0) border-box;border:3px solid transparent;box-sizing:border-box"></div>
<svg style="position:absolute;left:2706px;top:1542px" width="44" height="44" viewBox="0 0 44 44" fill="none">
<defs><radialGradient id="bg1" cx="0.35" cy="0.3" r="0.8"><stop offset="0" stop-color="#F4C6F8"/><stop offset="1" stop-color="#A77BF0"/></radialGradient></defs>
<circle cx="22" cy="3.5" r="2.5" fill="#D6A5F3"/>
<path d="M22 4 L22 8" stroke="#D6A5F3" stroke-width="1.5"/>
<path d="M4 30 L7 23 L9 33 Z" fill="#A77BF0"/><path d="M40 30 L37 23 L35 33 Z" fill="#A77BF0"/>
<ellipse cx="22" cy="25" rx="15.5" ry="17" fill="url(#bg1)"/>
<circle cx="15" cy="20" r="4.5" fill="#5531B8"/><circle cx="29" cy="20" r="4.5" fill="#5531B8"/>
<circle cx="15" cy="20" r="1.8" fill="#EBD5FA"/><circle cx="29" cy="20" r="1.8" fill="#EBD5FA"/>
<path d="M20 23 L24 23 L22 25.5 Z" fill="#5531B8"/>
</svg>
<div class="t" style="left:2756px;top:1549.5px;font-size:29px;color:#6A3BE0;font-weight:700;letter-spacing:0.3px;"><span style="background:linear-gradient(90deg,#D377C0,#6A3BE0 45%,#5A88DC 75%,#62C4DE);-webkit-background-clip:text;background-clip:text;color:transparent">Ask AI</span></div>
<script>(function(){var s=window.innerWidth/2964;if(s>0&&Math.abs(s-1)>0.01){document.documentElement.style.zoom=s;}})();</script>
</body></html>
